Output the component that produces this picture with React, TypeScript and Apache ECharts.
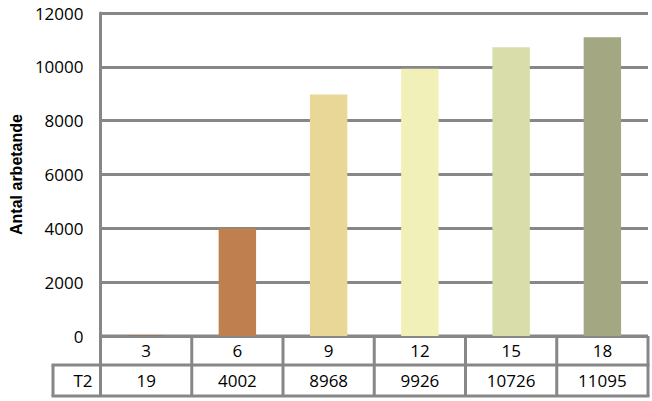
import React, { useEffect, useRef } from "react";
import * as echarts from "echarts";

const categories = ["3", "6", "9", "12", "15", "18"];
const seriesName = "T2";
const values = [19, 4002, 8968, 9926, 10726, 11095];
const barColors = ["#9C6B48", "#BF7F4F", "#E8D796", "#F1F0B8", "#D8DDA9", "#A3A882"];
const yMin = 0;
const yMax = 12000;
const yInterval = 2000;
const yTitle = "Antal arbetande";

const FONT = "'Open Sans', 'Noto Sans', sans-serif";
const LINE = "#878787";

export default function App() {
  const ref = useRef<HTMLDivElement>(null);
  useEffect(() => {
    if (!ref.current) return;
    const chart = echarts.init(ref.current, undefined, { renderer: "svg" });
    const option: any = {
      animation: false,
      backgroundColor: "#ffffff",
      grid: { left: 99, right: 4, top: 13, bottom: 65 },
      xAxis: [
        {
          type: "category",
          data: categories,
          axisLine: { show: false },
          axisTick: { show: false },
          axisLabel: { margin: 6, fontSize: 17, lineHeight: 17, color: "#000", fontFamily: FONT },
        },
        {
          type: "category",
          data: categories,
          position: "bottom",
          offset: 30,
          axisLine: { show: false },
          axisTick: { show: false },
          axisLabel: {
            margin: 6,
            fontSize: 17,
            lineHeight: 17,
            color: "#000",
            fontFamily: FONT,
            formatter: (_v: string, i: number) => String(values[i]),
          },
        },
      ],
      yAxis: {
        type: "value",
        min: yMin,
        max: yMax,
        interval: yInterval,
        name: yTitle,
        nameLocation: "middle",
        nameGap: 74,
        nameTextStyle: {
          fontWeight: "bold",
          fontSize: 16,
          color: "#000",
          fontFamily: "'Liberation Sans', Arial, sans-serif",
        },
        axisLine: { show: true, lineStyle: { color: LINE, width: 3 } },
        axisTick: { show: false },
        splitLine: { show: true, lineStyle: { color: LINE, width: 3 } },
        axisLabel: {
          margin: 17,
          fontSize: 17,
          color: "#000",
          fontFamily: FONT,
          formatter: (v: number) => String(v),
        },
      },
      series: [
        {
          name: seriesName,
          type: "bar",
          barWidth: "41%",
          data: values.map((v, i) => ({ value: v, itemStyle: { color: barColors[i] } })),
        },
      ],
    };
    chart.setOption(option);

    const centers = categories.map((c) => chart.convertToPixel({ xAxisIndex: 0 }, c) as number);
    const band = centers[1] - centers[0];
    const bounds = [centers[0] - band / 2, ...centers.map((c) => c + band / 2)];
    const y0 = chart.convertToPixel({ yAxisIndex: 0 }, yMin) as number;
    const y1 = y0 + 29;
    const y2 = y0 + 60;
    const leftX = 53;
    const rightX = bounds[bounds.length - 1];
    const ls = { stroke: LINE, lineWidth: 3 };
    const graphics: any[] = [
      { type: "line", shape: { x1: bounds[0], y1: y0, x2: rightX, y2: y0 }, style: ls },
      { type: "line", shape: { x1: leftX - 1.5, y1: y1, x2: rightX + 1.5, y2: y1 }, style: ls },
      { type: "line", shape: { x1: leftX - 1.5, y1: y2, x2: rightX + 1.5, y2: y2 }, style: ls },
      { type: "line", shape: { x1: leftX, y1: y1, x2: leftX, y2: y2 }, style: ls },
      ...bounds.map((b) => ({ type: "line", shape: { x1: b, y1: y0, x2: b, y2: y2 }, style: ls })),
      {
        type: "text",
        x: bounds[0] - 8,
        y: (y1 + y2) / 2,
        style: {
          text: seriesName,
          fontSize: 17,
          fontFamily: FONT,
          fill: "#000",
          align: "right",
          verticalAlign: "middle",
        },
      },
    ];
    chart.setOption({ graphic: graphics });
    return () => chart.dispose();
  }, []);
  return <div ref={ref} style={{ width: 652, height: 401, position: "absolute", left: 0, top: 0 }} />;
}
